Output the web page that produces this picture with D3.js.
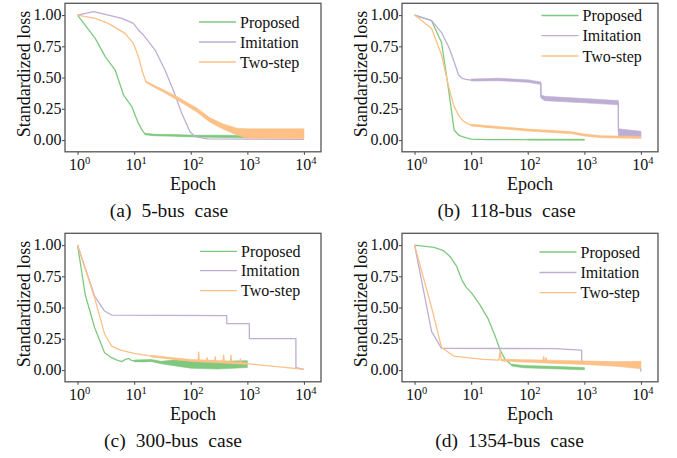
<!DOCTYPE html>
<html><head><meta charset="utf-8">
<script src="https://cdn.jsdelivr.net/npm/d3@7"></script>
<style>
body{margin:0;background:#fff}
svg{display:block}
text{font-family:"Liberation Serif","Times New Roman",serif;fill:#111}
</style>
</head><body>
<svg id="chart" width="677" height="458"></svg>
<script>
// ---------------- data ----------------
const captions = ["(a) 5-bus case", "(b) 118-bus case", "(c) 300-bus case", "(d) 1354-bus case"];
const seriesNames = ["Proposed", "Imitation", "Two-step"];
const xTickValues = [1, 10, 100, 1000, 10000];
const xTickExponents = ["0", "1", "2", "3", "4"];
const yTickValues = [0, 0.25, 0.5, 0.75, 1.0];
const yTickLabels = ["0.00", "0.25", "0.50", "0.75", "1.00"];
const xLabel = "Epoch";
const yLabel = "Standardized loss";

// (a) 5-bus: [epoch, loss]; bands: [epoch, low, high] for noisy stretches
const aProposed = [[1,1],[2.05,.813],[3.08,.667],[4.62,.56],[6.5,.36],[9.1,.267],[11.9,.133],[14,.075],[15.6,.048],[23.5,.04],[50,.037],[120,.032],[300,.03],[1000,.027]];
const aProposedBand = [[15.6,.042,.054],[23.5,.034,.046],[50,.03,.044],[120,.025,.039],[300,.021,.039],[1000,.018,.036]];
const aImitation = [[1,1],[1.92,1.027],[3.08,1.005],[6.06,.973],[9.7,.933],[11.9,.88],[14.6,.84],[23.5,.72],[35,.56],[49,.40],[69.5,.213],[97,.067],[120,.027],[200,.01],[1000,.008],[10000,.006]];
const aImitationBand = [];
const aTwoStep = [[1,1],[2.05,.973],[3.5,.933],[6.9,.853],[9.7,.773],[11.9,.667],[14,.547],[16.1,.467],[20.5,.44],[35,.387],[65,.32],[128,.24],[219,.16],[377,.107],[649,.067],[1000,.05],[10000,.045]];
const aTwoStepBand = [[16.1,.462,.472],[20.5,.433,.447],[35,.377,.397],[65,.307,.333],[128,.224,.256],[219,.142,.178],[377,.087,.128],[649,.04,.095],[1000,.015,.09],[10000,.01,.09]];

// (b) 118-bus
const bProposed = [[1,1],[2,.955],[3,.78],[4,.40],[5,.08],[6,.04],[7,.027],[8,.019],[10,.008],[20,.003],[1000,.002]];
const bProposedBand = [[100,0,.007],[1000,0,.007]];
const bImitation = [[1,1],[2,.955],[3,.86],[4,.747],[5,.627],[6,.52],[7,.493],[8,.485],[10,.48],[30,.485],[100,.472],[150,.461],[170,.455],[171,.347],[200,.333],[1000,.315],[3980,.299],[4000,.067],[10000,.045]];
const bImitationBand = [[10,.472,.488],[30,.475,.495],[100,.462,.482],[170,.445,.465],[171,.335,.36],[200,.315,.35],[1000,.298,.332],[3980,.282,.316],[4000,.03,.09],[10000,.02,.07]];
const bTwoStep = [[1,1],[2,.893],[3,.68],[4,.427],[5,.267],[6,.2],[7,.16],[8,.139],[10,.12],[20,.101],[50,.093],[100,.08],[300,.072],[600,.059],[1000,.04],[2000,.027],[10000,.021]];
const bTwoStepBand = [[10,.113,.127],[100,.072,.088],[600,.051,.067],[1000,.032,.048],[2000,.019,.035],[10000,.013,.029]];

// (c) 300-bus
const cProposed = [[1,1],[1.37,.6],[2,.34],[3,.139],[4,.099],[5,.08],[6,.067],[7,.085],[8,.093],[9,.077],[10,.072],[15,.067],[20,.077],[30,.059],[50,.06],[100,.045],[300,.04],[1000,.048]];
const cProposedBand = [[10,.066,.08],[20,.068,.085],[30,.05,.07],[50,.035,.08],[100,.015,.075],[300,.008,.07],[1000,.02,.075]];
const cImitation = [[1,1],[2,.592],[3,.472],[4,.44],[432,.435],[433,.371],[1084,.371],[1085,.251],[7200,.251],[7210,.019],[10000,.005]];
const cImitationBand = [];
const cTwoStep = [[1,1],[2,.579],[3,.29],[4,.192],[5,.171],[6,.157],[8,.144],[10,.133],[20,.112],[50,.091],[100,.077],[135,.075],[138,.144],[141,.075],[190,.072],[194,.10],[198,.071],[265,.068],[271,.105],[277,.068],[372,.065],[381,.12],[390,.065],[502,.06],[514,.12],[526,.06],[735,.055],[751,.09],[767,.055],[1000,.051],[3000,.029],[10000,.005]];
const cTwoStepBand = [[20,.105,.119],[50,.084,.098],[100,.069,.085],[300,.058,.076],[1000,.044,.058]];

// (d) 1354-bus
const dProposed = [[1,1],[2.2,.981],[3.25,.955],[4.26,.907],[5.58,.827],[6.85,.72],[8.2,.661],[10.3,.613],[14.4,.52],[20.2,.405],[26.5,.272],[32.5,.16],[39.8,.085],[52,.04],[84,.027],[247,.021],[1000,.011]];
const dProposedBand = [[52,.032,.048],[84,.018,.036],[247,.011,.031],[1000,.002,.02]];
const dImitation = [[1,1],[2,.307],[3,.173],[300,.172],[897,.16],[898,.08],[950,.061],[9500,.061],[10000,-.013]];
const dImitationBand = [];
const dTwoStep = [[1,1],[2,.50],[3,.18],[4.9,.112],[8.4,.099],[16.5,.085],[31,.08],[32.5,.155],[34,.08],[64,.075],[186,.068],[191,.107],[196,.068],[206,.068],[211,.10],[216,.068],[247,.067],[1000,.059],[3700,.048],[10000,.04]];
const dTwoStepBand = [[34,.073,.087],[64,.066,.084],[247,.055,.079],[1000,.045,.073],[3700,.03,.066],[10000,.01,.07]];

// ---------------- layout / style ----------------
const colors = ["#7fc97f", "#beaed4", "#fdc086"];
const panels = [
  {ox: 0,   oy: 0,   lines: [aProposed, aImitation, aTwoStep], bands: [aProposedBand, aImitationBand, aTwoStepBand], legY: [22, 42, 62], legX: 199, capX: 169},
  {ox: 337, oy: 0,   lines: [bProposed, bImitation, bTwoStep], bands: [bProposedBand, bImitationBand, bTwoStepBand], legY: [15.5, 35.7, 56], legX: 204.5, capX: 169.5},
  {ox: 0,   oy: 230, lines: [cProposed, cImitation, cTwoStep], bands: [cProposedBand, cImitationBand, cTwoStepBand], legY: [21.3, 40.7, 60.7], legX: 200, capX: 173},
  {ox: 337, oy: 230, lines: [dProposed, dImitation, dTwoStep], bands: [dProposedBand, dImitationBand, dTwoStepBand], legY: [22, 42.5, 62.7], legX: 202.5, capX: 172.5}
];
const box = {left: 65, right: 321, top: 3.3, bottom: 151.8};
const frameColor = "#555";

const svg = d3.select("#chart");

function stext(g, x, y, str, size, anchor) {
  return g.append("text")
    .attr("x", x).attr("y", y)
    .attr("text-anchor", anchor)
    .style("font-size", size + "px")
    .text(str);
}

panels.forEach((p, i) => {
  const g = svg.append("g").attr("transform", `translate(${p.ox},${p.oy})`);
  const x = d3.scaleLog().domain([0.6, 20000]).range([box.left, box.right]);
  const y = d3.scaleLinear().domain([-0.094, 1.094]).range([box.bottom, box.top]);

  const clipId = "clip" + i;
  g.append("clipPath").attr("id", clipId).append("rect")
    .attr("x", box.left).attr("y", box.top)
    .attr("width", box.right - box.left).attr("height", box.bottom - box.top);
  const plot = g.append("g").attr("clip-path", `url(#${clipId})`);

  const line = d3.line().x(d => x(d[0])).y(d => y(d[1]));
  const area = d3.area().x(d => x(d[0])).y0(d => y(d[1])).y1(d => y(d[2]));

  p.lines.forEach((ser, k) => {
    if (p.bands[k].length) {
      plot.append("path").datum(p.bands[k]).attr("d", area)
        .attr("fill", colors[k]).attr("stroke", colors[k]).attr("stroke-width", 0.6);
    }
    plot.append("path").datum(ser).attr("d", line)
      .attr("fill", "none").attr("stroke", colors[k]).attr("stroke-width", 1.3)
      .attr("stroke-linejoin", "round");
  });

  // frame
  g.append("rect").attr("x", box.left).attr("y", box.top)
    .attr("width", box.right - box.left).attr("height", box.bottom - box.top)
    .attr("fill", "none").attr("stroke", frameColor).attr("stroke-width", 1.3);

  // x axis ticks
  const xAxis = d3.axisBottom(x).tickValues(xTickValues).tickSize(3).tickFormat("");
  const xa = g.append("g").attr("transform", `translate(0,${box.bottom})`).call(xAxis);
  xa.select(".domain").remove();
  xa.selectAll(".tick line").attr("stroke", frameColor).attr("stroke-width", 1.1);
  xTickValues.forEach((v, j) => {
    const t = g.append("text")
      .attr("x", x(v) + 2).attr("y", 170)
      .attr("text-anchor", "middle")
      .style("font-size", "16px");
    t.append("tspan").text("10");
    t.append("tspan").attr("dy", -6.5).style("font-size", "10.5px").text(xTickExponents[j]);
  });

  // y axis ticks
  const yAxis = d3.axisLeft(y).tickValues(yTickValues).tickSize(3).tickFormat("");
  const ya = g.append("g").attr("transform", `translate(${box.left},0)`).call(yAxis);
  ya.select(".domain").remove();
  ya.selectAll(".tick line").attr("stroke", frameColor).attr("stroke-width", 1.1);
  yTickValues.forEach((v, j) => {
    stext(g, 61.5, y(v) + 5.4, yTickLabels[j], 16, "end");
  });

  // axis labels
  stext(g, (box.left + box.right) / 2, 190, xLabel, 18, "middle");
  g.append("text")
    .attr("transform", `translate(30,74) rotate(-90)`)
    .attr("text-anchor", "middle")
    .style("font-size", "18px")
    .text(yLabel);

  // legend
  seriesNames.forEach((name, k) => {
    g.append("line")
      .attr("x1", p.legX).attr("x2", p.legX + 37)
      .attr("y1", p.legY[k]).attr("y2", p.legY[k])
      .attr("stroke", colors[k]).attr("stroke-width", 1.3);
    stext(g, p.legX + 41, p.legY[k] + 5.5, name, 16, "start");
  });

  // caption
  stext(g, p.capX, 217, captions[i], 19.5, "middle").style("word-spacing", "5px");
});
</script>
</body></html>
